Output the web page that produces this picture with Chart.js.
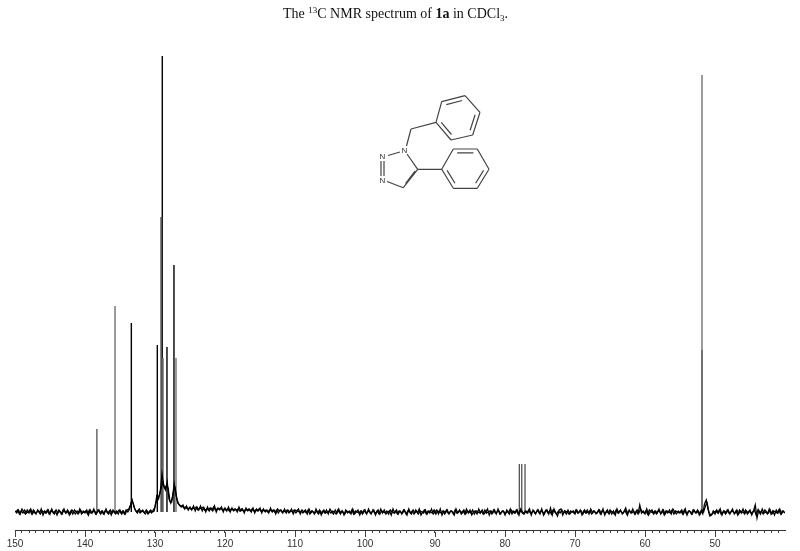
<!DOCTYPE html>
<html>
<head>
<meta charset="utf-8">
<title>13C NMR spectrum of 1a</title>
<script src="https://cdn.jsdelivr.net/npm/chart.js@4/dist/chart.umd.min.js"></script>
<style>html,body{margin:0;padding:0;background:#fff}canvas{display:block;filter:blur(0.5px)}</style>
</head>
<body>
<canvas id="c" width="800" height="551"></canvas>
<script>
// Chemical-shift axis
const ppmStart = 150;
const ppmEnd = 40;
const baselineStep = 0.25;

// Baseline intensity, one value per 0.25 ppm from 150 down to 40
const baselineValues = [
 1,-1,2,-2,3,0,-2,2,-1,3,-2,1,-2,2,-1,3,-3,1,-1,2,
 -2,3,-1,1,-3,2,0,-2,3,-1,2,-3,1,-2,2,0,-2,3,-2,1,
 -1,2,-3,2,-1,3,-2,0,2,-2,1,-2,3,-1,1,-3,2,-1,1,-2,
 2,-2,1,-2,2,3,7,12,5,1,-1,3,0,2,-1,2,-2,1,-1,2,
 5,16,13,20,38,26,22,30,13,9,15,28,17,9,7,5,7,3,6,2,
 5,2,6,1,5,2,6,1,4,0,5,1,4,1,6,0,4,2,5,0,
 4,1,5,0,4,1,3,0,5,1,3,-1,4,1,3,0,4,-1,3,1,
 4,-1,3,0,2,-1,4,0,2,-2,3,1,2,-1,3,-1,2,0,3,-2,
 2,1,3,-2,2,0,2,-2,3,-1,1,-2,3,-1,2,-3,1,-1,2,-2,
 3,0,-2,2,-1,3,-2,1,-3,2,-1,1,-2,3,-2,0,2,-3,1,-1,
 2,-2,3,-1,0,2,-3,1,-2,3,-1,2,-2,0,1,-3,3,-1,2,-2,
 1,-2,2,0,-3,3,-1,1,-2,2,-1,3,-3,0,2,-2,1,-1,3,-2,
 0,2,-2,3,-3,1,-1,2,-2,1,0,-3,3,-1,2,-2,1,-2,3,-1,
 2,-3,0,1,-2,3,-1,2,-2,0,3,-3,1,-1,2,-2,3,-2,0,1,
 -3,2,-1,3,-2,1,-1,2,-3,3,0,-2,1,-1,3,-3,2,-1,0,2,
 -2,3,-3,1,2,-2,4,-3,3,-1,-4,2,3,-3,1,-2,2,-2,0,1,
 -2,2,-1,2,-3,1,-1,2,-2,3,-1,1,-2,0,2,-2,3,-3,1,-1,
 2,-2,1,-3,3,-1,2,-2,0,4,-3,2,-1,3,-2,1,-2,7,-1,1,
 -2,3,-3,0,2,-2,1,-1,3,-2,2,-3,1,-1,2,-2,3,0,-2,1,
 -1,2,-2,3,-3,1,0,-2,2,-1,2,-3,1,-2,8,12,3,-4,-3,1,
 -2,2,-1,3,-3,1,-2,2,-1,0,3,-2,1,-3,2,-1,3,-2,1,-1,
 2,-3,1,7,-6,2,-2,3,-1,0,-2,3,-2,1,-3,2,-1,3,-2,1,
 -1
];

// Second pass along the baseline, read between the points above (from 149.875 down)
const baselineFineValues = [
 0,2,-2,1,-1,2,-1,0,2,-2,2,-1,0,1,-2,1,0,-1,2,-2,
 1,0,-2,2,-1,1,-2,2,0,-1,1,-2,2,0,-2,1,-1,2,-1,0,
 1,-2,2,-1,0,1,-2,2,-1,1,-2,1,0,-2,2,-1,1,-2,0,2,
 -1,1,-2,2,0,3,10,9,3,0,2,-1,1,0,-2,1,-1,2,0,1,
 9,14,17,24,30,24,26,24,11,10,20,24,13,8,6,6,4,5,3,4,
 3,4,3,5,2,4,3,5,2,3,2,4,2,5,2,3,3,4,2,3,
 2,3,1,3,2,3,2,3,1,3,1,2,2,3,1,3,1,2,1,3,
 1,2,1,2,0,2,1,2,0,2,-1,2,0,1,0,2,-1,1,0,2,
 -1,1,0,1,-1,1,-1,2,-2,1,0,-1,1,-2,1,-1,2,-1,0,1,
 -1,1,0,-2,2,-1,1,0,-2,1,0,-1,2,-2,1,0,-1,1,-2,2,
 -1,0,1,-2,2,-1,0,2,-2,1,0,-1,1,-2,2,0,-1,1,-2,1,
 0,-1,2,-2,1,0,-2,2,-1,1,-2,1,0,-1,2,-2,1,0,-1,2,
 -2,1,0,-1,1,-2,2,-1,0,1,-2,2,-1,0,1,-1,2,-2,1,0,
 -1,2,-2,1,0,-1,1,-2,2,-1,0,1,-2,2,-1,0,1,-2,1,0,
 -1,1,-2,2,0,-1,2,-2,1,0,-2,1,-1,2,-1,0,1,-2,2,-1,
 1,0,-2,2,-1,1,-2,2,0,-2,1,-1,2,-1,1,0,-2,1,0,-1,
 2,-1,0,1,-2,2,-1,0,1,-2,1,0,-1,2,-2,1,0,-1,2,-2,
 1,0,-2,2,-1,1,0,-1,2,-2,1,0,-1,1,-2,2,-1,3,0,-1,
 1,-2,2,0,-1,1,-2,1,0,-1,2,-2,1,0,-1,2,-2,1,0,-1,
 1,-2,2,-1,0,1,-2,2,0,-1,1,-2,2,0,6,9,0,-3,-2,0,
 1,-1,2,-2,0,1,-1,2,-2,1,0,-1,2,-2,1,0,-1,2,-2,1,
 -1,0,2,-3,2,-1,1,-2,2,0,-1,2,-2,1,0,-1,2,-2,1,0
];

// Strong, sharp resonances: shift and peak height above the baseline
const blackPeakPpm = [133.38, 129.67, 129.04, 128.96, 128.29, 127.29];
const blackPeakTop = [189, 167, 295, 456, 165, 247];

// Medium resonances: phenyl ipso carbon and the CDCl3 triplet
const midPeakPpm = [138.3, 77.96, 77.6, 77.14];
const midPeakTop = [83, 48, 48, 48];

// Lighter resonances: benzyl ipso carbon, ring shoulders and the CH2 carbon
const softPeakPpm = [135.71, 128.85, 127.0, 51.86];
const softPeakTop = [206, 154, 154, 437];

// Lower, broader part of the CH2 resonance and the main aromatic signal
const broadPeakPpm = [51.86, 129.1];
const broadPeakTop = [162, 295];

// Axis labels
const majorTickStep = 10;
const minorTickStep = 1;
const hiddenTickLabels = [40];

// Title pieces
const titleBefore = "The ";
const titleSup = "13";
const titleMiddle = "C NMR spectrum of ";
const titleBold = "1a";
const titleAfter = " in CDCl";
const titleSub = "3";
const titleEnd = ".";

const baselinePoints = baselineValues.map((v, i) => ({ x: ppmStart - i * baselineStep, y: v }));
const baselineFinePoints = baselineFineValues.map((v, i) => ({ x: ppmStart - (i + 0.5) * baselineStep, y: v }));
function spikes(ppm, top) {
  const pts = [];
  ppm.forEach((p, i) => {
    pts.push({ x: p, y: 0 }, { x: p, y: top[i] }, { x: p, y: null });
  });
  return pts;
}

const titlePlugin = {
  id: 'richTitle',
  afterDraw(chart) {
    const ctx = chart.ctx;
    const regular = '14px "Liberation Serif"';
    const bold = 'bold 14px "Liberation Serif"';
    const small = '9px "Liberation Serif"';
    const parts = [
      [titleBefore, regular, 0], [titleSup, small, -5], [titleMiddle, regular, 0],
      [titleBold, bold, 0], [titleAfter, regular, 0], [titleSub, small, 3], [titleEnd, regular, 0]
    ];
    ctx.save();
    ctx.fillStyle = '#111';
    ctx.textBaseline = 'alphabetic';
    ctx.textAlign = 'left';
    let w = 0;
    parts.forEach(p => { ctx.font = p[1]; w += ctx.measureText(p[0]).width; });
    let x = 395.5 - w / 2;
    parts.forEach(p => {
      ctx.font = p[1];
      ctx.fillText(p[0], x, 18 + p[2]);
      x += ctx.measureText(p[0]).width;
    });
    ctx.restore();
  }
};

const majorTickPlugin = {
  id: 'majorTicks',
  afterDraw(chart) {
    const s = chart.scales.x;
    const ctx = chart.ctx;
    ctx.save();
    ctx.strokeStyle = '#444';
    ctx.lineWidth = 1;
    ctx.beginPath();
    for (let v = ppmStart; v > ppmEnd; v -= majorTickStep) {
      const px = Math.round(s.getPixelForValue(v)) + 0.5;
      ctx.moveTo(px, s.top + 2);
      ctx.lineTo(px, s.top + 7);
    }
    ctx.stroke();
    ctx.restore();
  }
};

const moleculePlugin = {
  id: 'molecule',
  afterDraw(chart) {
    const ctx = chart.ctx;
    const line = (a, b) => { ctx.moveTo(a[0], a[1]); ctx.lineTo(b[0], b[1]); };
    const ring = (r, doubles) => {
      const c = [r.reduce((t, p) => t + p[0], 0) / 6, r.reduce((t, p) => t + p[1], 0) / 6];
      r.forEach((p, i) => line(p, r[(i + 1) % 6]));
      doubles.forEach(i => {
        const a = r[i], b = r[(i + 1) % 6];
        const f = (p, q) => [p[0] + (c[0] - p[0]) * 0.2 + (q[0] - p[0]) * 0.06, p[1] + (c[1] - p[1]) * 0.2 + (q[1] - p[1]) * 0.06];
        line(f(a, b), f(b, a));
      });
    };
    ctx.save();
    ctx.strokeStyle = '#444';
    ctx.lineWidth = 1.2;
    ctx.beginPath();
    const benzyl = [[436, 122.3], [441.7, 101.7], [465, 95.7], [480, 112.3], [472.7, 135], [451, 140]];
    const phenyl = [[441.7, 169.3], [453.3, 149], [477.3, 149], [489, 169.3], [477.3, 188.3], [453.3, 188.3]];
    ring(benzyl, [1, 3, 5]);
    ring(phenyl, [1, 3, 5]);
    line([436, 122.3], [411, 129]);
    line([411, 129], [406.5, 146]);
    line([400, 152], [388, 155.5]);
    line([381, 161], [381, 176]);
    line([384, 161], [384, 176]);
    line([387, 181.5], [403.3, 187.7]);
    line([403.3, 187.7], [417.7, 169.3]);
    line([405.5, 183.5], [415, 171]);
    line([417.7, 169.3], [407, 154]);
    line([417.7, 169.3], [441.7, 169.3]);
    ctx.stroke();
    ctx.fillStyle = '#333';
    ctx.font = '8px "Liberation Sans"';
    ctx.textAlign = 'center';
    ctx.textBaseline = 'middle';
    ctx.fillText('N', 404.3, 150.7);
    ctx.fillText('N', 382.5, 157);
    ctx.fillText('N', 382.5, 180.5);
    ctx.restore();
  }
};

new Chart(document.getElementById('c'), {
  type: 'line',
  data: {
    datasets: [
      { label: 'baseline', data: baselinePoints, borderColor: '#000', borderWidth: 1.3 },
      { label: 'baseline fine', data: baselineFinePoints, borderColor: '#000', borderWidth: 1.3 },
      { label: 'soft', data: spikes(softPeakPpm, softPeakTop), borderColor: '#7a7a7a', borderWidth: 1.5 },
      { label: 'broad', data: spikes(broadPeakPpm, broadPeakTop), borderColor: '#555', borderWidth: 2 },
      { label: 'mid', data: spikes(midPeakPpm, midPeakTop), borderColor: '#333', borderWidth: 1.1 },
      { label: 'black', data: spikes(blackPeakPpm, blackPeakTop), borderColor: '#000', borderWidth: 1.4 }
    ]
  },
  options: {
    responsive: false,
    animation: false,
    events: [],
    layout: { padding: { left: 15, right: 15, top: 0, bottom: 0 } },
    datasets: { line: { pointRadius: 0, tension: 0, fill: false, spanGaps: false } },
    plugins: { legend: { display: false }, tooltip: { enabled: false }, title: { display: false } },
    scales: {
      x: {
        type: 'linear',
        reverse: true,
        min: ppmEnd,
        max: ppmStart,
        afterFit(s) { s.height = 21; },
        border: { display: true, color: '#333', width: 1 },
        grid: {
          drawOnChartArea: false,
          drawTicks: true,
          tickLength: 3,
          tickColor: c => (c.tick && c.tick.value === ppmEnd ? 'rgba(0,0,0,0)' : '#444')
        },
        ticks: {
          stepSize: minorTickStep,
          autoSkip: false,
          maxRotation: 0,
          padding: 5,
          color: '#333',
          font: { family: '"Liberation Sans"', size: 10 },
          callback(v) {
            return v % majorTickStep === 0 && !hiddenTickLabels.includes(v) ? String(v) : '';
          }
        }
      },
      y: { display: false, min: -18, max: 512 }
    }
  },
  plugins: [titlePlugin, majorTickPlugin, moleculePlugin]
});
</script>
</body>
</html>
